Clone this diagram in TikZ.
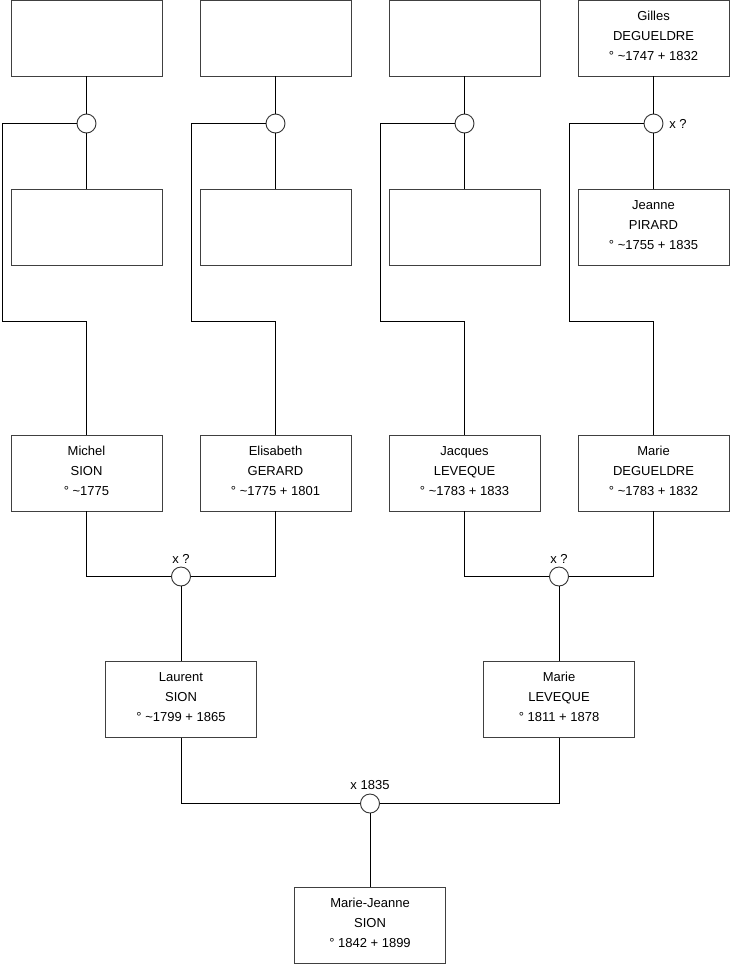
\documentclass[tikz,border=0pt]{standalone}
\usepackage{fontspec}
\setmainfont{Liberation Sans}
\newcommand\pinfo[3]{\rule{0pt}{12pt}#1\\#2\\#3\rule[-8pt]{0pt}{8pt}}
\begin{document}
\begin{tikzpicture}[x=1pt,y=-1pt,
  person/.style={draw=black!75, line width=0.9pt, fill=white, minimum width=151pt, minimum height=76pt, inner sep=0pt, align=center, font=\fontsize{13}{20}\selectfont},
  union/.style={draw=black!80, line width=0.9pt, fill=white, circle, minimum size=19pt, inner sep=0pt},
  lbl/.style={font=\fontsize{13}{15}\selectfont, inner sep=0pt},
  link/.style={draw=black, line width=0.9pt}]
\useasboundingbox (0,0) rectangle (740,975);
% top row
\node[person] (t1) at (86.5,38) {};
\node[person] (t2) at (275.5,38) {};
\node[person] (t3) at (464.5,38) {};
\node[person] (t4) at (653.5,38) {\pinfo{Gilles}{DEGUELDRE}{° \textasciitilde1747 + 1832}};
% unions
\node[union] (c1) at (86.5,123.5) {};
\node[union] (c2) at (275.5,123.5) {};
\node[union] (c3) at (464.5,123.5) {};
\node[union] (c4) at (653.5,123.5) {};
% second row
\node[person] (m1) at (86.5,227.5) {};
\node[person] (m2) at (275.5,227.5) {};
\node[person] (m3) at (464.5,227.5) {};
\node[person] (m4) at (653.5,227.5) {\pinfo{Jeanne}{PIRARD}{° \textasciitilde1755 + 1835}};
% third row
\node[person] (f1) at (86.5,473) {\pinfo{Michel}{SION}{° \textasciitilde1775}};
\node[person] (f2) at (275.5,473) {\pinfo{Elisabeth}{GERARD}{° \textasciitilde1775 + 1801}};
\node[person] (f3) at (464.5,473) {\pinfo{Jacques}{LEVEQUE}{° \textasciitilde1783 + 1833}};
\node[person] (f4) at (653.5,473) {\pinfo{Marie}{DEGUELDRE}{° \textasciitilde1783 + 1832}};
% unions row 3
\node[union] (d1) at (181,576.5) {};
\node[union] (d2) at (559,576.5) {};
% fourth row
\node[person] (g1) at (181,699.5) {\pinfo{Laurent}{SION}{° \textasciitilde1799 + 1865}};
\node[person] (g2) at (559,699.5) {\pinfo{Marie}{LEVEQUE}{° 1811 + 1878}};
\node[union] (e) at (370,803.5) {};
\node[person] (mj) at (370,925.5) {\pinfo{Marie-Jeanne}{SION}{° 1842 + 1899}};
% labels
\node[lbl] (lc4) at (678,123.5) {x ?};
\node[lbl] (ld1) at (181,558.5) {x ?};
\node[lbl] (ld2) at (559,558.5) {x ?};
\node[lbl] (le) at (370,785.5) {x 1835};
% corner coordinates
\coordinate (L1) at (2,321.5);
\coordinate (L2) at (191,321.5);
\coordinate (L3) at (380,321.5);
\coordinate (L4) at (569,321.5);
% connectors
\foreach \i in {1,2,3,4}{
  \draw[link] (t\i.south) -- (c\i.north);
  \draw[link] (c\i.south) -- (m\i.north);
  \draw[link] (c\i.west) -| (L\i) -| (f\i.north);
}
\draw[link] (f1.south) |- (d1.west);
\draw[link] (f2.south) |- (d1.east);
\draw[link] (f3.south) |- (d2.west);
\draw[link] (f4.south) |- (d2.east);
\draw[link] (d1.south) -- (g1.north);
\draw[link] (d2.south) -- (g2.north);
\draw[link] (g1.south) |- (e.west);
\draw[link] (g2.south) |- (e.east);
\draw[link] (e.south) -- (mj.north);
\end{tikzpicture}
\end{document}
